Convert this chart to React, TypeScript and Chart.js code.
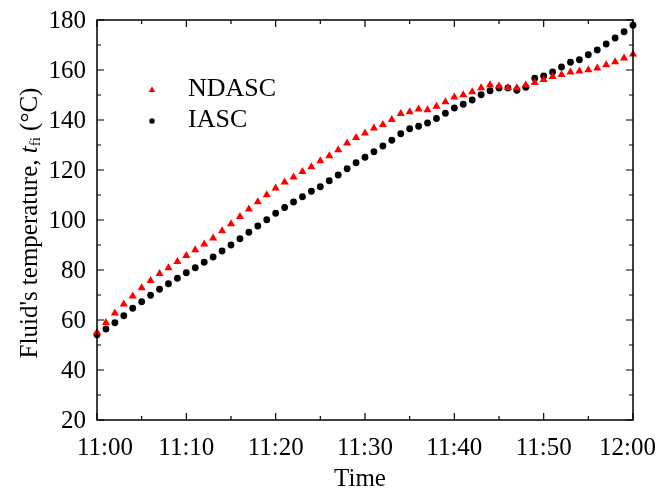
import React, { useEffect, useRef } from "react";
import { Chart, registerables } from "chart.js";

Chart.register(...registerables);

// minutes after 11:00
const minutes = [
  0, 1, 2, 3, 4, 5, 6, 7, 8, 9, 10, 11, 12, 13, 14, 15, 16, 17, 18, 19, 20,
  21, 22, 23, 24, 25, 26, 27, 28, 29, 30, 31, 32, 33, 34, 35, 36, 37, 38, 39, 40,
  41, 42, 43, 44, 45, 46, 47, 48, 49, 50, 51, 52, 53, 54, 55, 56, 57, 58, 59, 60,
];

const ndasc = [
  55.0, 58.9, 62.7, 66.3, 69.5, 72.8, 75.7, 78.5, 80.8, 83.3, 85.7,
  88.0, 90.3, 92.7, 95.6, 98.4, 101.3, 104.3, 107.2, 110.0, 112.7,
  115.1, 117.1, 119.3, 121.2, 123.6, 125.6, 128.0, 130.7, 132.9, 134.7,
  136.7, 138.1, 140.1, 142.5, 143.2, 144.3, 144.0, 145.4, 147.2, 149.1,
  150.0, 151.2, 152.8, 154.0, 153.5, 152.9, 152.8, 153.9, 154.9, 156.1,
  157.3, 158.1, 159.1, 159.5, 160.0, 160.7, 162.0, 163.2, 164.7, 166.3,
];

const iasc = [
  54.1, 56.4, 58.9, 61.7, 64.7, 67.3, 69.9, 72.3, 74.5, 76.7, 78.9,
  80.9, 83.1, 85.2, 87.6, 90.0, 92.5, 95.1, 97.6, 100.1, 102.7,
  105.0, 107.2, 109.3, 111.5, 113.3, 115.7, 118.0, 120.5, 122.9, 125.1,
  127.3, 129.6, 131.9, 134.5, 136.5, 137.5, 138.8, 140.6, 142.7, 144.8,
  146.3, 148.0, 150.1, 151.7, 152.8, 152.8, 151.9, 153.1, 156.7, 157.6,
  159.2, 161.2, 163.1, 164.1, 166.1, 168.0, 170.4, 172.8, 175.3, 177.9,
];

const seriesNames = ["NDASC", "IASC"];
const xTickValues = [0, 10, 20, 30, 40, 50, 60];
const xTickLabels = ["11:00", "11:10", "11:20", "11:30", "11:40", "11:50", "12:00"];
const xMinorTicks = [5, 15, 25, 35, 45, 55];
const yTickValues = [20, 40, 60, 80, 100, 120, 140, 160, 180];
const yMinorTicks = [30, 50, 70, 90, 110, 130, 150, 170];

const FONT = '"Liberation Serif", "Times New Roman", serif';

function drawTri(ctx: CanvasRenderingContext2D, x: number, y: number, r: number) {
  ctx.beginPath();
  let rad = 0;
  for (let i = 0; i < 3; i++) {
    const px = x + Math.sin(rad) * r;
    const py = y - Math.cos(rad) * r;
    if (i === 0) ctx.moveTo(px, py);
    else ctx.lineTo(px, py);
    rad += (Math.PI * 2) / 3;
  }
  ctx.closePath();
  ctx.fill();
}

const framePlugin = {
  id: "framePlugin",
  afterDraw(chart: any) {
    const { ctx, chartArea: a, scales } = chart;
    const xs = scales.x;
    const ys = scales.y;
    ctx.save();
    ctx.strokeStyle = "#000";
    ctx.lineWidth = 1.5;
    ctx.strokeRect(a.left, a.top, a.right - a.left, a.bottom - a.top);

    ctx.lineWidth = 1.2;
    const xTick = (v: number, len: number) => {
      const px = xs.getPixelForValue(v);
      ctx.beginPath();
      ctx.moveTo(px, a.bottom);
      ctx.lineTo(px, a.bottom - len);
      ctx.moveTo(px, a.top);
      ctx.lineTo(px, a.top + len);
      ctx.stroke();
    };
    const yTick = (v: number, len: number) => {
      const py = ys.getPixelForValue(v);
      ctx.beginPath();
      ctx.moveTo(a.left, py);
      ctx.lineTo(a.left + len, py);
      ctx.moveTo(a.right, py);
      ctx.lineTo(a.right - len, py);
      ctx.stroke();
    };
    xTickValues.forEach((v) => xTick(v, 7));
    xMinorTicks.forEach((v) => xTick(v, 4));
    yTickValues.forEach((v) => yTick(v, 7));
    yMinorTicks.forEach((v) => yTick(v, 4));

    ctx.fillStyle = "#000";
    ctx.font = `25px ${FONT}`;
    // x tick labels
    ctx.textBaseline = "middle";
    ctx.textAlign = "left";
    const W = chart.width;
    xTickValues.forEach((v, i) => {
      const px = xs.getPixelForValue(v);
      const label = xTickLabels[i];
      const w = ctx.measureText(label).width;
      let left = px - w / 2;
      if (left < a.left - 20) left = a.left - 20;
      if (left + w > W - 4) left = W - 4 - w;
      ctx.fillText(label, left, a.bottom + 28);
    });
    // y tick labels
    ctx.textAlign = "right";
    yTickValues.forEach((v) => {
      const py = ys.getPixelForValue(v);
      ctx.fillText(String(v), a.left - 11, py + 1);
    });

    // x title
    ctx.textAlign = "center";
    ctx.fillText("Time", (a.left + a.right) / 2 - 5, a.bottom + 59);

    // y title with italic t and subscript fi
    const parts = [
      { t: "Fluid's temperature, ", f: `25px ${FONT}`, dy: 0 },
      { t: "t", f: `italic 25px ${FONT}`, dy: 0 },
      { t: "fi", f: `15px ${FONT}`, dy: 6 },
      { t: " (°C)", f: `25px ${FONT}`, dy: 0 },
    ];
    let total = 0;
    parts.forEach((p) => {
      ctx.font = p.f;
      total += ctx.measureText(p.t).width;
    });
    ctx.save();
    ctx.translate(30, (a.top + a.bottom) / 2 + 3);
    ctx.rotate(-Math.PI / 2);
    ctx.textAlign = "left";
    ctx.textBaseline = "middle";
    let cx = -total / 2;
    parts.forEach((p) => {
      ctx.font = p.f;
      ctx.fillText(p.t, cx, p.dy);
      cx += ctx.measureText(p.t).width;
    });
    ctx.restore();

    // legend
    const lx = a.left + 55;
    ctx.font = `26px ${FONT}`;
    ctx.textAlign = "left";
    ctx.textBaseline = "middle";
    ctx.fillStyle = "#ff0000";
    drawTri(ctx, lx, a.top + 70, 3.8);
    ctx.fillStyle = "#000";
    ctx.fillText(seriesNames[0], lx + 36, a.top + 69);
    ctx.beginPath();
    ctx.arc(lx, a.top + 101, 2.7, 0, Math.PI * 2);
    ctx.fill();
    ctx.fillText(seriesNames[1], lx + 36, a.top + 100);
    ctx.restore();
  },
};

export default function App() {
  const ref = useRef<HTMLCanvasElement>(null);
  useEffect(() => {
    if (!ref.current) return;
    const chart = new Chart(ref.current, {
      type: "scatter",
      data: {
        datasets: [
          {
            label: seriesNames[0],
            data: minutes.map((m, i) => ({ x: m, y: ndasc[i] })),
            pointStyle: "triangle",
            pointRadius: 4.7,
            backgroundColor: "#ff0000",
            borderWidth: 0,
            clip: false as any,
          },
          {
            label: seriesNames[1],
            data: minutes.map((m, i) => ({ x: m, y: iasc[i] })),
            pointStyle: "circle",
            pointRadius: 3.4,
            backgroundColor: "#000000",
            borderWidth: 0,
            clip: false as any,
          },
        ],
      },
      options: {
        animation: false,
        responsive: false,
        maintainAspectRatio: false,
        layout: { padding: { left: 97, right: 27, top: 20, bottom: 68 } },
        plugins: { legend: { display: false }, tooltip: { enabled: false } },
        scales: {
          x: { type: "linear", min: 0, max: 60, display: false },
          y: { type: "linear", min: 20, max: 180, display: false },
        },
      },
      plugins: [framePlugin],
    });
    return () => chart.destroy();
  }, []);
  return (
    <div style={{ position: "fixed", left: 0, top: 0, width: 660, height: 488, background: "#fff" }}>
      <canvas ref={ref} width={660} height={488} />
    </div>
  );
}
